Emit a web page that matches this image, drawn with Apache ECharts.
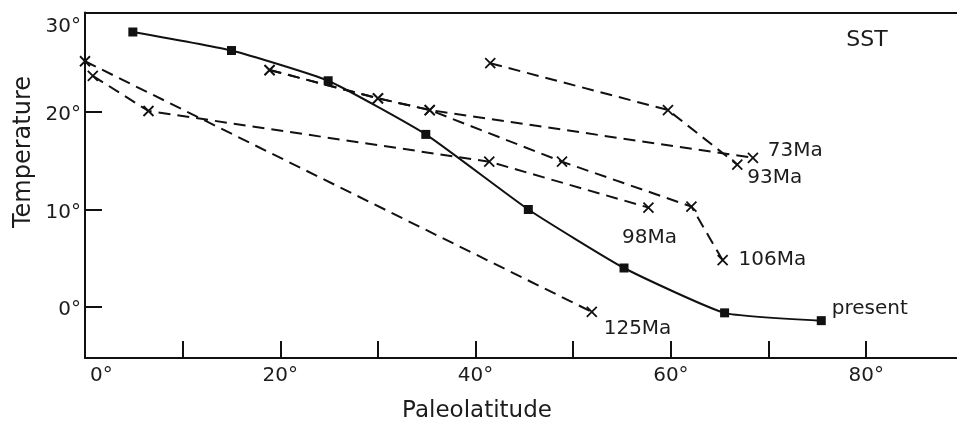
<!DOCTYPE html>
<html>
<head>
<meta charset="utf-8">
<script src="https://cdn.jsdelivr.net/npm/echarts@6/dist/echarts.min.js"></script>
<style>
  html, body { margin: 0; padding: 0; background: #fff; }
  #chart { width: 957px; height: 425px; }
</style>
</head>
<body>
<div id="chart"></div>
<script>
// Axis ticks and labels
const latTicks = [10, 20, 30, 40, 50, 60, 70, 80];
const latLabels = [0, 20, 40, 60, 80];
const tempTicks = [0, 10, 20];
const tempLabels = [0, 10, 20, 30];

// Present-day SST profile (solid line, squares)
const presentLat = [4.9, 15.0, 24.9, 34.9, 45.4, 55.2, 65.5, 75.4];
const presentSST = [28.2, 26.3, 23.2, 17.7, 10.0, 4.0, -0.6, -1.4];

// Cretaceous profiles (dashed lines, crosses)
const ma73Lat = [18.9, 30.0, 35.3, 68.4];
const ma73SST = [24.3, 21.4, 20.2, 15.3];
const ma93Lat = [41.5, 59.7, 66.8];
const ma93SST = [25.0, 20.2, 14.6];
const ma98Lat = [0.8, 6.5, 41.4, 57.7];
const ma98SST = [23.7, 20.1, 14.9, 10.2];
const ma106Lat = [18.9, 30.0, 35.3, 48.85, 62.1, 65.3];
const ma106SST = [24.3, 21.4, 20.2, 14.9, 10.3, 4.8];
const ma125Lat = [0, 51.9];
const ma125SST = [25.2, -0.5];

const INK = '#111111';
const TEXT = '#1c1c1c';
const FONT = 'DejaVu Sans';
const cross = 'path://M0,0L10,10M0,10L10,0';

function pairs(xs, ys) { return xs.map((x, i) => [x, ys[i]]); }

function withEndLabel(xs, ys, text, labelOpt) {
  const d = pairs(xs, ys).map(p => ({ value: p }));
  d[d.length - 1].label = Object.assign({
    show: true,
    formatter: text,
    color: TEXT,
    fontFamily: FONT,
    fontSize: 20
  }, labelOpt);
  return d;
}

function dashed(name, xs, ys, labelOpt) {
  return {
    name: name,
    type: 'line',
    clip: false,
    data: withEndLabel(xs, ys, name, labelOpt),
    symbol: cross,
    symbolSize: 10,
    itemStyle: { color: 'transparent', borderColor: INK, borderWidth: 1.8 },
    lineStyle: { color: INK, width: 2, type: [12, 7] },
    emphasis: { disabled: true },
    z: 3
  };
}

const chart = echarts.init(document.getElementById('chart'), null, { renderer: 'canvas' });

chart.setOption({
  backgroundColor: '#ffffff',
  animation: false,
  grid: { left: 85, right: 0, top: 12.5, bottom: 67 },
  xAxis: [{
    type: 'value',
    min: 0,
    max: 89.3,
    axisLine: { show: true, onZero: false, lineStyle: { color: INK, width: 2 } },
    axisTick: { show: true, inside: true, length: 17, customValues: latTicks, lineStyle: { color: INK, width: 2 } },
    axisLabel: {
      customValues: latLabels,
      formatter: v => v === 0 ? '{z|0°}' : '{n|' + v + '°}',
      alignMinLabel: 'left',
      margin: 8,
      rich: {
        n: { fontFamily: FONT, fontSize: 20, color: TEXT },
        z: { fontFamily: FONT, fontSize: 20, color: TEXT, padding: [0, 0, 0, 5] }
      }
    },
    splitLine: { show: false }
  }, {
    type: 'value',
    position: 'top',
    min: 0,
    max: 89.3,
    axisLine: { show: true, onZero: false, lineStyle: { color: INK, width: 2 } },
    axisTick: { show: false },
    axisLabel: { show: false },
    splitLine: { show: false }
  }],
  yAxis: {
    type: 'value',
    min: -5.23,
    max: 30.2,
    axisLine: { show: true, onZero: false, lineStyle: { color: INK, width: 2 } },
    axisTick: { show: true, inside: true, length: 17, customValues: tempTicks, lineStyle: { color: INK, width: 2 } },
    axisLabel: {
      customValues: tempLabels,
      formatter: v => v === 30 ? '{t|' + v + '°}' : '{n|' + v + '°}',
      margin: 4,
      rich: {
        n: { fontFamily: FONT, fontSize: 20, color: TEXT, padding: [6, 0, 0, 0] },
        t: { fontFamily: FONT, fontSize: 20, color: TEXT, padding: [24, 0, 0, 0] }
      }
    },
    splitLine: { show: false }
  },
  graphic: [
    {
      type: 'text',
      x: 24, y: 152,
      rotation: Math.PI / 2,
      style: { text: 'Temperature', fill: TEXT, font: '24px "DejaVu Sans"', align: 'center', verticalAlign: 'middle' }
    },
    {
      type: 'text',
      x: 477, y: 411,
      style: { text: 'Paleolatitude', fill: TEXT, font: '23px "DejaVu Sans"', align: 'center', verticalAlign: 'middle' }
    },
    {
      type: 'text',
      x: 867, y: 40,
      style: { text: 'SST', fill: TEXT, font: '22px "DejaVu Sans"', align: 'center', verticalAlign: 'middle' }
    }
  ],
  series: [
    {
      name: 'present',
      type: 'line',
      clip: false,
      smooth: 0.15,
      data: withEndLabel(presentLat, presentSST, 'present', { position: 'right', distance: 6, offset: [0, -12] }),
      symbol: 'rect',
      symbolSize: 9,
      itemStyle: { color: INK },
      lineStyle: { color: INK, width: 2 },
      emphasis: { disabled: true },
      z: 4
    },
    dashed('73Ma', ma73Lat, ma73SST, { position: 'right', distance: 9, offset: [0, -7] }),
    dashed('93Ma', ma93Lat, ma93SST, { position: 'right', distance: 4, offset: [0, 13] }),
    dashed('98Ma', ma98Lat, ma98SST, { position: 'bottom', distance: 14, offset: [1, 0] }),
    dashed('106Ma', ma106Lat, ma106SST, { position: 'right', distance: 10, offset: [0, 0] }),
    dashed('125Ma', ma125Lat, ma125SST, { position: 'right', distance: 6, offset: [0, 17] })
  ]
});
</script>
</body>
</html>
